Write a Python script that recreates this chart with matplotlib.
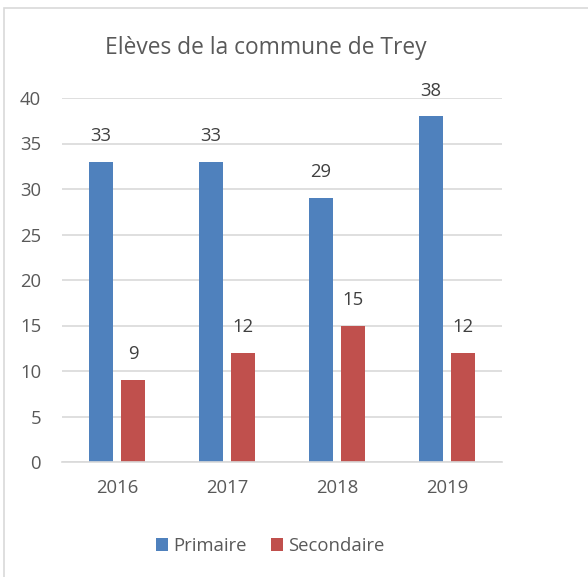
import numpy as np
import matplotlib.pyplot as plt
from matplotlib.patches import Rectangle

years = ['2016', '2017', '2018', '2019']
primaire = [33, 33, 29, 38]
secondaire = [9, 12, 15, 12]

W, H = 588, 577
fig = plt.figure(figsize=(W / 100, H / 100), dpi=100)
plt.rcParams['font.family'] = ['Open Sans', 'DejaVu Sans']
txt = '#595959'

# outer chart border (runs off the right and bottom edges)
fig.patches.append(Rectangle((4 / W, -0.1), 1.2, 1.1 - 8 / H, transform=fig.transFigure,
                             fill=False, edgecolor='#d9d9d9', linewidth=1.2))

ax = fig.add_axes([62 / W, 115 / H, 440 / W, 364 / H])
x = np.arange(len(years))
bw = 0.22
b1 = ax.bar(x - 0.145, primaire, bw, color='#4F81BD', label='Primaire')
b2 = ax.bar(x + 0.145, secondaire, bw, color='#C0504D', label='Secondaire')
for bars in (b1, b2):
    ax.bar_label(bars, padding=12, fontsize=13.3, color='#404040')

ax.set_xlim(-0.5, 3.5)
ax.set_ylim(0, 40)
ax.set_yticks(range(0, 41, 5))
ax.set_xticks(x)
ax.set_xticklabels(years)
ax.yaxis.grid(True, color='#d9d9d9', linewidth=1.2)
ax.set_axisbelow(True)
for s in ['top', 'right', 'left']:
    ax.spines[s].set_visible(False)
ax.spines['bottom'].set_color('#d9d9d9')
ax.spines['bottom'].set_linewidth(1.2)
ax.tick_params(length=0, labelsize=13.3, labelcolor=txt)
ax.tick_params(axis='x', pad=12)
ax.tick_params(axis='y', pad=15)

fig.text(266 / W, 1 - 48 / H, 'Elèves de la commune de Trey', ha='center', va='center',
         fontsize=16.4, color=txt)
fig.legend(loc='center', bbox_to_anchor=(270 / W, 1 - 546 / H), ncol=2, frameon=False,
           fontsize=13.3, labelcolor=txt, handlelength=0.65, handleheight=0.65,
           handletextpad=0.3, columnspacing=1.3)

fig.savefig('out.png', dpi=100)
